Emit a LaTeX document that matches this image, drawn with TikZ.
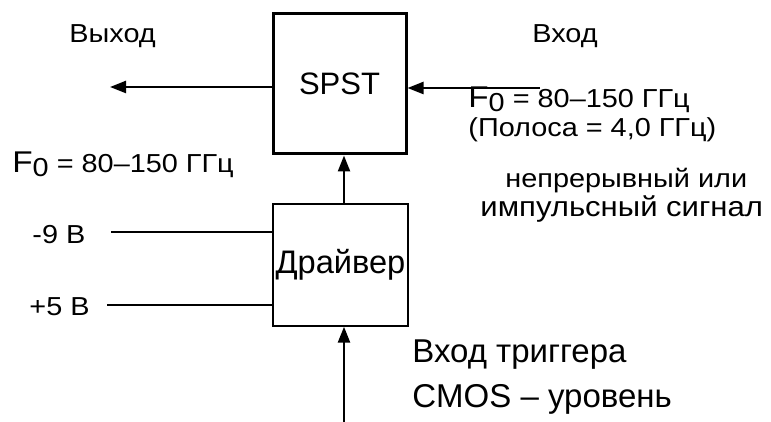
\documentclass[tikz,border=0pt]{standalone}
\usepackage{fontspec}
\setmainfont{Liberation Sans}
\newfontfamily\widefont[FakeStretch=1.11]{Liberation Sans}
\usetikzlibrary{arrows.meta, positioning}
\tikzstyle{arrow} = [line width=1.2pt, -{Triangle[length=8pt,width=6pt]}]
\tikzstyle{wire} = [line width=0.7pt]
\tikzstyle{switch} = [rectangle, minimum width=66.5pt, minimum height=70pt, line width=1.5pt, draw=black, font=\fontsize{15.5}{18}\selectfont]
\tikzstyle{driver} = [rectangle, minimum width=67.5pt, minimum height=61pt, inner sep=0pt, line width=0.7pt, draw=black, font=\fontsize{16.3}{18}\selectfont]
\tikzstyle{txt} = [anchor=base west, inner sep=0pt, font=\widefont\fontsize{13}{15}\selectfont]
\tikzstyle{bigtxt} = [anchor=base west, inner sep=0pt, font=\fontsize{16.5}{18}\selectfont]
\newcommand{\fnull}{{\fontsize{15}{18}\selectfont F}\raisebox{-2pt}{0}}

\begin{document}
\begin{tikzpicture}[x=0.5pt, y=-0.5pt, node distance=90.5pt]
\useasboundingbox (0,0) rectangle (771,422);
\node (spst) [switch] at (339.5,84) {SPST};
\node (drv) [driver, below of=spst, xshift=0.5pt] {Драйвер};
\coordinate (outend) at (110,87);
\coordinate (inend) at (540,88);
\coordinate (trig) at (344,422);
\coordinate (m9) at (111,232);
\coordinate (p5) at (107,305);
\node (out) [txt] at (69,43) {Выход};
\node (in) [txt] at (532,43) {Вход};
\node (fleft) [txt] at (12,173) {\fnull{} = 80–150 ГГц};
\node (fright) [txt] at (468,108) {\fnull{} = 80–150 ГГц};
\node (band) [txt] at (468,137) {(Полоса = 4,0 ГГц)};
\node (cw) [txt] at (505,188) {непрерывный или};
\node (pulse) [txt, font=\widefont\fontsize{14}{16}\selectfont] at (480,217) {импульсный сигнал};
\node (vm9) [txt] at (32,244) {-9 В};
\node (vp5) [txt] at (29,315) {+5 В};
\node (trg) [bigtxt] at (412,363) {Вход триггера};
\node (cmos) [bigtxt] at (412,407) {CMOS – уровень};
\draw [arrow] (spst.west |- outend) -- (outend);
\draw [arrow] (inend) -- (spst.east |- inend);
\draw [arrow] (drv.north -| trig) -- (spst.south -| trig);
\draw [arrow] (trig) -- (drv.south -| trig);
\draw [wire] (m9) -- (drv.west |- m9);
\draw [wire] (p5) -- (drv.west |- p5);
\end{tikzpicture}
\end{document}
